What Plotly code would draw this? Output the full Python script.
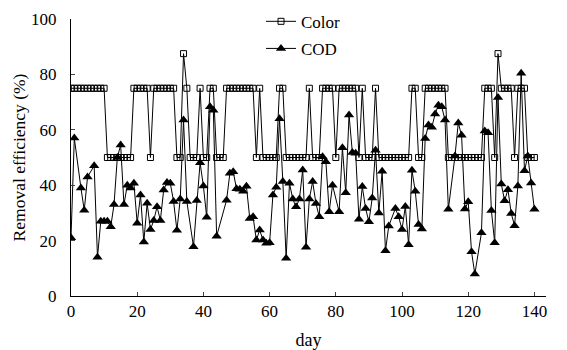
import plotly.graph_objects as go

# Color removal efficiency (%) per day 0..140
color_days = list(range(0, 141))
color_vals = (
    [75]*11 + [50]*8 + [75]*5 + [50] + [75]*7 + [50]*2 + [87.5] + [75] + [50]*3 + [75] + [50]*2
    + [75]*2 + [50]*3 + [75]*9 + [50] + [75] + [50]*5 + [75]*2 + [50]*7 + [75] + [50]*3 + [75]*4
    + [50] + [75]*6 + [50] + [75] + [50]*3 + [75] + [50]*10 + [75]*2 + [50]*2 + [75]*7 + [50]*11
    + [75]*3 + [50] + [87.5] + [75]*4 + [50] + [75]*3 + [50]*3
)

# COD removal efficiency (%)
cod_days = [0, 1, 3, 4, 5, 7, 8, 9, 10, 11, 12, 13, 14, 15, 16, 17, 18, 19, 20, 21, 22, 23, 24, 25, 26,
            27, 28, 29, 30, 31, 32, 33, 34, 35, 37, 38, 39, 40, 41, 42, 43, 44, 47, 48, 49, 50, 51, 52,
            53, 54, 55, 56, 57, 58, 59, 60, 61, 62, 63, 64, 65, 66, 67, 68, 69, 70, 71, 72, 73, 74, 75,
            76, 77, 78, 79, 81, 82, 83, 84, 85, 86, 87, 88, 89, 90, 91, 92, 93, 94, 95, 96, 98, 99, 100,
            101, 102, 103, 104, 105, 106, 107, 108, 109, 110, 111, 112, 113, 114, 116, 117, 118, 119,
            120, 121, 122, 124, 125, 126, 127, 128, 129, 130, 131, 132, 133, 134, 135, 136, 137, 138,
            139, 140]
cod_vals = [21, 57, 39, 31, 43, 47, 14, 27, 27, 27, 25, 33, 50, 54.5, 33, 40, 39, 40.7, 26.3, 36.5,
            19.5, 33.5, 24, 27.3, 32.2, 27.3, 38.3, 41, 40.7, 34.1, 23.7, 35, 63.5, 34.1, 17.8, 34.5,
            48.1, 39.7, 28.4, 68.3, 67.1, 21.6, 34.6, 44.3, 44.9, 38.7, 38.5, 37.8, 39.6, 28, 28.6,
            20.2, 23.8, 20.2, 19, 19.2, 36.5, 39.3, 64, 41.3, 13.6, 40.7, 35, 32.2, 35, 45.5, 17.6, 35,
            41.3, 33.4, 28.6, 50.3, 48.5, 30.4, 40, 30.4, 53.5, 37.3, 65.3, 51.8, 51.5, 27.7, 39.5,
            31.6, 26.8, 35.4, 52.6, 30, 45, 16.3, 25.3, 31.6, 28.6, 24, 32.3, 18.5, 45.4, 37.8, 25.8,
            24.2, 56.9, 61.7, 60.9, 65.7, 68.9, 68.3, 63.5, 31.3, 50.5, 62.5, 58, 31.4, 34, 16, 7.9,
            22.8, 59.6, 58.9, 30.9, 19.2, 71.7, 40.4, 34.4, 38.4, 29.8, 25.4, 39.7, 80.4, 45.2, 50.5,
            40.8, 31.3]

x_ticks = [0, 20, 40, 60, 80, 100, 120, 140]
y_ticks = [0, 20, 40, 60, 80, 100]

FONT = "Liberation Serif"

fig = go.Figure()
fig.add_trace(go.Scatter(
    x=color_days, y=color_vals, name="Color", mode="lines+markers", legendgroup="a",
    line=dict(color="black", width=1),
    marker=dict(symbol="square-open", size=6, color="black", line=dict(width=1, color="black")),
))
fig.add_trace(go.Scatter(
    x=cod_days, y=cod_vals, name="COD", mode="lines+markers", legendgroup="b",
    line=dict(color="black", width=1),
    marker=dict(symbol="triangle-up", size=9, color="black"),
))

fig.update_layout(
    width=567, height=350,
    margin=dict(l=71, r=21, t=19, b=54, autoexpand=False),
    paper_bgcolor="white", plot_bgcolor="white",
    font=dict(family=FONT, color="black", size=17),
    showlegend=True,
    legend=dict(x=0.4, y=1.055, xanchor="left", yanchor="top",
                bgcolor="rgba(0,0,0,0)", font=dict(size=17, family=FONT),
                itemwidth=30, tracegroupgap=2),
    xaxis=dict(range=[0, 143.5], tickvals=x_ticks, ticks="inside", ticklen=4,
               showline=True, linecolor="black", linewidth=1, showgrid=False, zeroline=False,
               title=dict(text="day", font=dict(size=18, family=FONT), standoff=13),
               tickfont=dict(size=17, family=FONT)),
    yaxis=dict(range=[0, 100], tickvals=y_ticks, ticks="inside", ticklen=4,
               showline=True, linecolor="black", linewidth=1, showgrid=False, zeroline=False,
               ticklabelstandoff=10,
               title=dict(text="Removal efficiency (%)", font=dict(size=17.5, family=FONT), standoff=0),
               tickfont=dict(size=17, family=FONT)),
)

fig.write_html("out.html", config={"displayModeBar": False},
               post_script="document.body.style.margin='0';")
